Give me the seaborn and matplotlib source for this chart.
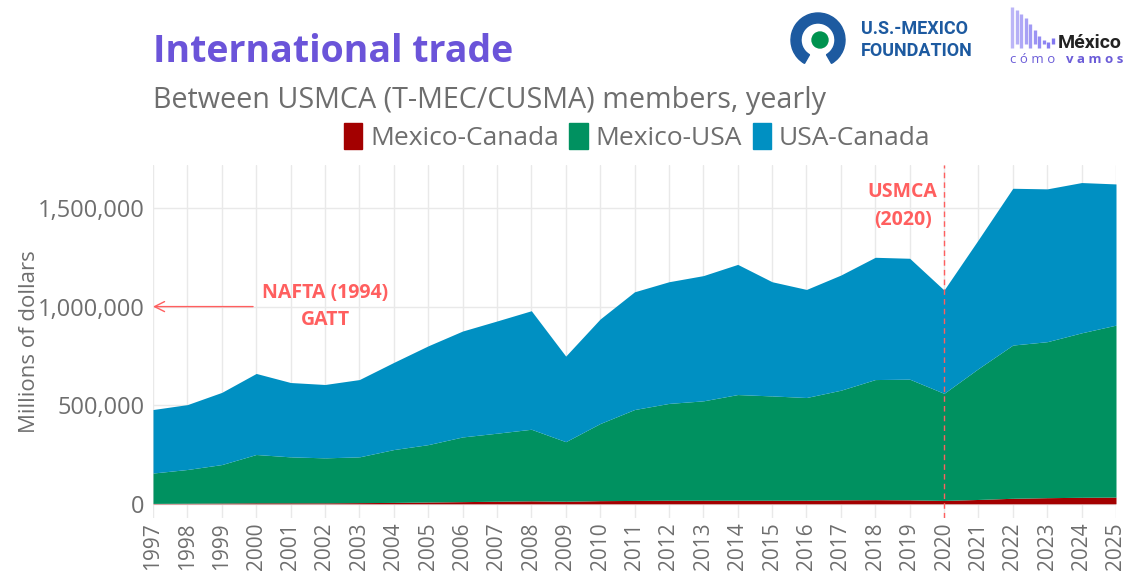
import numpy as np
import pandas as pd
import matplotlib
matplotlib.use("Agg")
import matplotlib.pyplot as plt
import matplotlib.patches as mpatches
from matplotlib.ticker import FuncFormatter
import seaborn as sns

# Data (millions of dollars)
years = list(range(1997, 2026))
mexico_canada = [2000, 3000, 4000, 5000, 5000, 5000, 6000, 7000, 9000, 11000,
                 13000, 15000, 13000, 16000, 17000, 18000, 18000, 18000, 18000, 18000,
                 20000, 21000, 20000, 17000, 22000, 28000, 31000, 33000, 34000]
mexico_usa = [154000, 171000, 195000, 245000, 233000, 228000, 232000, 268000, 291000, 328000,
              345000, 363000, 302000, 391000, 461000, 491000, 504000, 536000, 529000, 521000,
              556000, 609000, 612000, 543000, 664000, 777000, 791000, 834000, 872000]
usa_canada = [322000, 329000, 366000, 411000, 377000, 372000, 392000, 442000, 501000, 537000,
              569000, 601000, 434000, 530000, 597000, 617000, 635000, 660000, 579000, 548000,
              584000, 620000, 613000, 524000, 654000, 795000, 775000, 762000, 716000]
series_names = ["Mexico-Canada", "Mexico-USA", "USA-Canada"]
series_colors = ["#a30000", "#009160", "#0090c2"]

df = pd.DataFrame({"year": years, "Mexico-Canada": mexico_canada,
                   "Mexico-USA": mexico_usa, "USA-Canada": usa_canada})

sns.set_theme(style="whitegrid")
plt.rcParams["font.family"] = ["Open Sans", "DejaVu Sans"]
grey = "#6e6e6e"
accent = "#ff5f5f"

fig = plt.figure(figsize=(11.3, 5.81), dpi=100)
ax = fig.add_axes([153 / 1130, 1 - 518 / 581, (1116 - 153) / 1130, (518 - 165) / 581])

# stacked areas
base = np.zeros(len(df))
for name, col in zip(series_names, series_colors):
    top = base + df[name].to_numpy()
    ax.fill_between(df["year"], base, top, color=col, linewidth=0, label=name)
    base = top
sns.lineplot(x=df["year"], y=base, ax=ax, linewidth=0, legend=False)

ax.set_xlim(1997, 2025)
ax.set_ylim(-72000, 1718000)
ax.set_xticks(years)
ax.set_xticklabels([str(y) for y in years], rotation=90, color=grey, fontsize=15)
ax.set_yticks([0, 500000, 1000000, 1500000])
ax.yaxis.set_major_formatter(FuncFormatter(lambda v, p: f"{int(v):,}"))
ax.tick_params(axis="y", labelsize=17, labelcolor=grey, length=0, pad=6)
ax.tick_params(axis="x", length=0, pad=3)
ax.grid(True, color="#e9e9e9", linewidth=1)
ax.set_axisbelow(True)
for s in ax.spines.values():
    s.set_visible(False)
ax.set_xlabel("")
ax.set_ylabel("Millions of dollars", color=grey, fontsize=16)
ax.yaxis.set_label_coords(-0.117, 0.5)

# annotations
ax.annotate("NAFTA (1994)\nGATT", xy=(1997, 1000000), xytext=(2002.0, 1000000),
            ha="center", va="center", color=accent, fontsize=14, fontweight="bold",
            linespacing=1.5,
            arrowprops=dict(arrowstyle="->", color=accent, lw=1, shrinkA=4, shrinkB=0,
                            mutation_scale=18))
ax.axvline(2020, color=accent, linestyle=(0, (4, 3)), linewidth=1, ymin=0, ymax=1)
ax.text(2018.8, 1510000, "USMCA\n(2020)", ha="center", va="center", color=accent,
        fontsize=14, fontweight="bold", linespacing=1.5)

# titles
fig.text(153 / 1130, 1 - 62 / 581, "International trade", color="#6b54d9",
         fontsize=27, fontweight="bold", va="baseline")
fig.text(153 / 1130, 1 - 108 / 581, "Between USMCA (T-MEC/CUSMA) members, yearly",
         color=grey, fontsize=20.7, va="baseline")

# legend
handles = [mpatches.Patch(color=c, label=n) for n, c in zip(series_names, series_colors)]
fig.legend(handles=handles, loc="center", bbox_to_anchor=(637 / 1130, 1 - 137 / 581),
           ncol=3, frameon=False, fontsize=19, labelcolor=grey, handlelength=0.7,
           handleheight=1.1, handletextpad=0.3, columnspacing=0.4)

# logos (simple drawn approximations)
logo = fig.add_axes([0, 0, 1, 1], facecolor="none")
logo.set_xlim(0, 1130)
logo.set_ylim(581, 0)
logo.axis("off")
logo.add_patch(mpatches.Wedge((818, 40), 27, 120, 60, width=10, color="#1d5aa0"))
logo.add_patch(mpatches.Circle((820, 40), 8, color="#00934f"))
logo.text(861, 29, "U.S.-MEXICO", color="#1d5aa0", fontsize=13, fontweight="bold",
          va="center", family=["Roboto", "DejaVu Sans"])
logo.text(861, 51, "FOUNDATION", color="#1d5aa0", fontsize=13, fontweight="bold",
          va="center", family=["Roboto", "DejaVu Sans"])
bar_tops = [7, 10, 14, 18, 24, 30, 36, 40, 42, 38]
for i, t in enumerate(bar_tops):
    logo.plot([1012 + i * 4.5, 1012 + i * 4.5], [t, 48 - (i % 2) * 4], color="#7a6ff0",
              lw=2.4, alpha=0.5 + 0.05 * i, solid_capstyle="butt")
logo.text(1058, 48, "México", color="#222222", fontsize=14, fontweight="bold",
          va="baseline", family=["Roboto", "DejaVu Sans"])
logo.text(1010, 63, "c ó m o", color="#6b5cd8", fontsize=9.5, va="baseline")
logo.text(1066, 63, "v a m o s", color="#6b5cd8", fontsize=9.5, fontweight="bold",
          va="baseline")

fig.savefig("out.png", dpi=100)
